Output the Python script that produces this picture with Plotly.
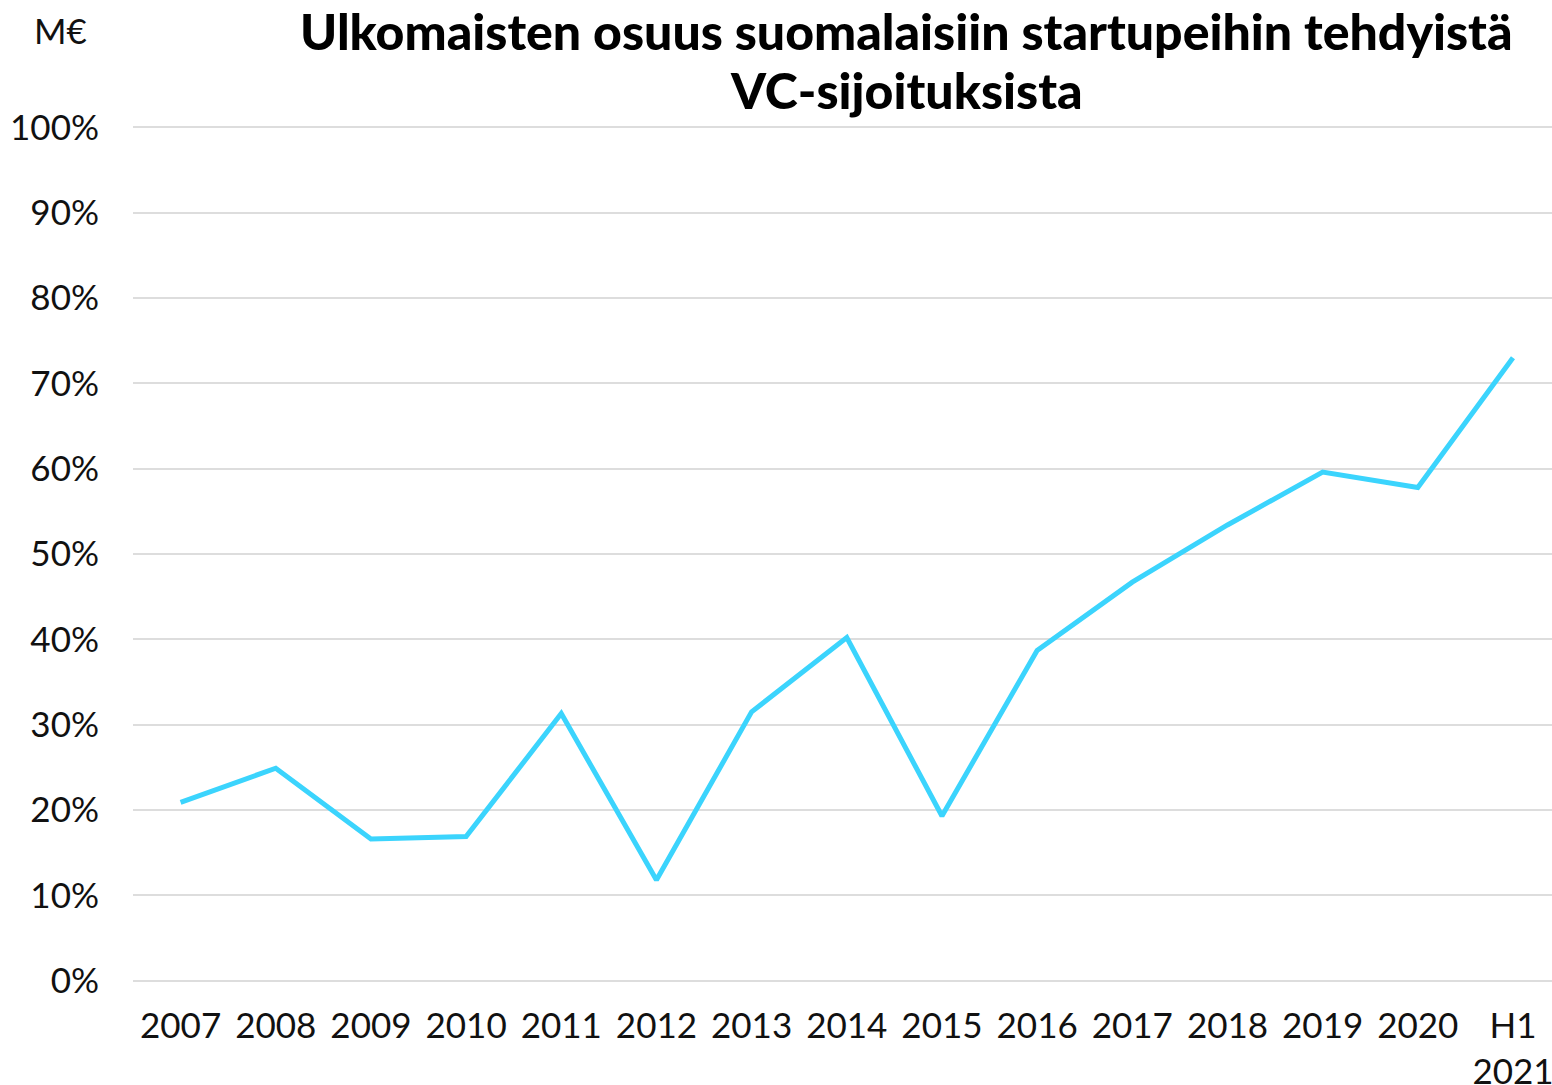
import plotly.graph_objects as go

categories = ["2007", "2008", "2009", "2010", "2011", "2012", "2013", "2014",
              "2015", "2016", "2017", "2018", "2019", "2020", "H1<br>2021"]
share_pct = [20.9, 24.9, 16.6, 16.9, 31.3, 11.8, 31.5, 40.2,
             19.3, 38.7, 46.7, 53.4, 59.6, 57.8, 73.0]
y_ticks = [0, 10, 20, 30, 40, 50, 60, 70, 80, 90, 100]
y_tick_labels = [f"{v}%" for v in y_ticks]
title_lines = ["Ulkomaisten osuus suomalaisiin startupeihin tehdyistä", "VC-sijoituksista"]

FONT = "Lato"
W, H = 1552, 1085
L, R, T, B = 133, 0, 126, 103
PW, PH = W - L - R, H - T - B


def px_x(x):
    return (x - L) / PW


def px_y(y):
    return (PH + T - y) / PH


fig = go.Figure()
fig.add_trace(go.Scatter(
    x=list(range(len(categories))), y=share_pct, mode="lines",
    line=dict(color="#3bd4fd", width=5),
    hoverinfo="y",
))

annotations = [
    dict(text=line, x=px_x(907), y=px_y(cy), xref="paper", yref="paper",
         xanchor="center", yanchor="middle", showarrow=False,
         font=dict(family=FONT, size=50, weight=900, color="#000000"))
    for line, cy in zip(title_lines, [31, 90])
]
annotations.append(
    dict(text="M€", x=px_x(60), y=px_y(30), xref="paper", yref="paper",
         xanchor="center", yanchor="middle", showarrow=False, font=dict(size=35))
)

fig.update_layout(
    width=W, height=H,
    margin=dict(l=L, r=R, t=T, b=B, autoexpand=False),
    paper_bgcolor="white", plot_bgcolor="white",
    font=dict(family=FONT, size=35, color="#111111"),
    showlegend=False,
    xaxis=dict(
        tickmode="array", tickvals=list(range(len(categories))), ticktext=categories,
        range=[-0.5, 14.41], showgrid=False, zeroline=False, showline=False,
        ticks="", tickfont=dict(size=35), ticklabelstandoff=20, automargin=False,
        ticklabeloverflow="allow",
    ),
    yaxis=dict(
        tickmode="array", tickvals=y_ticks, ticktext=y_tick_labels,
        range=[-0.15, 100.15], showgrid=True, gridcolor="#dddddd", gridwidth=2,
        zeroline=False, showline=False, ticks="", tickfont=dict(size=35),
        ticklabelstandoff=33, automargin=False,
    ),
    annotations=annotations,
)

fig.write_html("out.html", config={"displayModeBar": False},
               post_script="document.body.style.margin='0';")
